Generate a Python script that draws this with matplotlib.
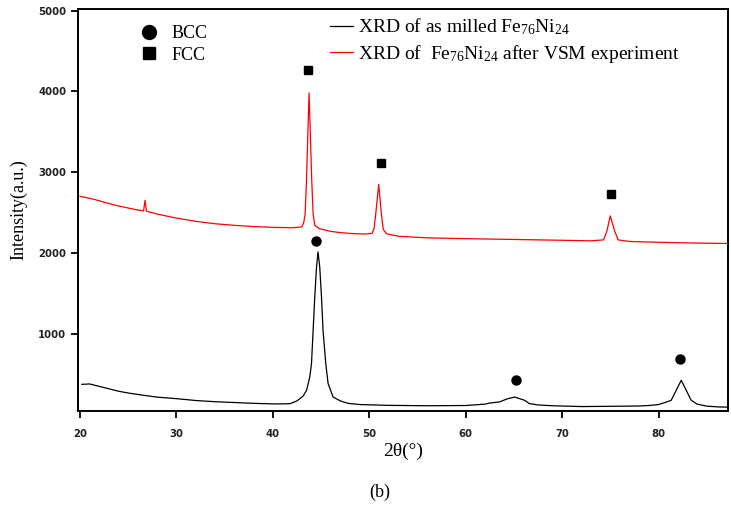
import matplotlib
matplotlib.use("Agg")
import matplotlib.pyplot as plt
from matplotlib.lines import Line2D

plt.rcParams['mathtext.fontset'] = 'custom'
plt.rcParams['mathtext.rm'] = 'Liberation Serif'
plt.rcParams['mathtext.it'] = 'Liberation Serif:italic'

# As-milled (black) XRD trace
milled_x = [20.2, 21, 22, 23, 24, 25, 26, 27, 28, 30, 32, 34, 36, 38, 40, 41, 41.8, 42.5, 43.14,
            43.5, 43.83, 44.01, 44.18, 44.35, 44.53, 44.69, 44.87, 45.05, 45.21, 45.49, 45.73,
            46.25, 47, 47.8, 49, 52, 56, 60, 62, 62.5, 63.5, 64.3, 65.08, 66.1, 66.6, 67.5, 69,
            72, 75, 78, 79, 80, 80.8, 81.31, 81.83, 82.35, 82.87, 83.38, 84, 85, 86.3, 87.2]
milled_y = [370, 375, 345, 315, 285, 263, 245, 228, 212, 193, 170, 155, 145, 135, 128, 128, 131, 165, 225,
            296, 460, 625, 1037, 1448, 1818, 2012, 1818, 1448, 1037, 630, 382,
            213, 165, 135, 120, 110, 105, 108, 125, 139, 152, 190, 213, 173, 132, 115, 105,
            95, 98, 102, 108, 120, 150, 173, 296, 420, 296, 173, 125, 100, 90, 88]

# After VSM (red) XRD trace
vsm_x = [20, 21, 22, 23, 24, 25, 26, 26.6, 26.75, 26.9, 28, 30, 32, 34, 36, 38, 40, 42, 43.0,
         43.2, 43.35, 43.49, 43.76, 44.04, 44.18, 44.35, 44.8, 46, 47, 48, 49.5, 50.3, 50.5,
         50.67, 50.98, 51.26, 51.45, 51.8, 53, 56, 60, 65, 70, 73, 74.3, 74.65, 74.99, 75.44,
         75.8, 77, 80, 84, 87.2]
vsm_y = [2700, 2675, 2645, 2610, 2580, 2555, 2530, 2520, 2650, 2515, 2480, 2430, 2390, 2360, 2340, 2325, 2315, 2310, 2320,
         2370, 2478, 2889, 3980, 2889, 2478, 2340, 2300, 2265, 2250, 2240, 2232, 2240, 2300,
         2478, 2848, 2478, 2290, 2235, 2205, 2185, 2175, 2165, 2155, 2148, 2160, 2272, 2457, 2272,
         2160, 2140, 2130, 2120, 2115]

# Phase markers
bcc_x = [44.5, 65.2, 82.2]
bcc_y = [2140, 420, 680]
fcc_x = [43.6, 51.2, 75.1]
fcc_y = [4270, 3110, 2725]

label_milled = r"XRD of as milled Fe$_\mathregular{76}$Ni$_\mathregular{24}$"
label_vsm = r"XRD of  Fe$_\mathregular{76}$Ni$_\mathregular{24}$ after VSM experiment"

fig = plt.figure(figsize=(7.31, 5.08), dpi=100)
ax = fig.add_axes([78/731, 1-411/508, 650/731, 402/508])

ax.plot(milled_x, milled_y, color='black', lw=0.9)
ax.plot(vsm_x, vsm_y, color='#ff0000', lw=0.9)
ax.plot(bcc_x, bcc_y, 'o', color='black', ms=6.5, ls='none')
ax.plot(fcc_x, fcc_y, 's', color='black', ms=5.8, ls='none')

ax.set_xlim(19.8, 87.2)
ax.set_ylim(40, 5020)
ax.set_xticks([20, 30, 40, 50, 60, 70, 80])
ax.set_yticks([1000, 2000, 3000, 4000, 5000])
ax.tick_params(direction='out', length=5, width=1.3, labelsize=7.3, top=False, right=False,
               labelcolor='#222222')
ax.tick_params(axis='x', pad=8)
for lab in ax.get_xticklabels() + ax.get_yticklabels():
    lab.set_fontweight('bold')
for s in ax.spines.values():
    s.set_linewidth(1.4)

ax.set_xlabel("2θ(°)", family='Liberation Serif', fontsize=14)
ax.set_ylabel("Intensity(a.u.)", family='Liberation Serif', fontsize=13)
ax.xaxis.set_label_coords(0.5, -0.08)
ax.yaxis.set_label_coords(-0.078, 0.5)

h1 = [Line2D([], [], marker='o', color='black', ls='none', ms=10),
      Line2D([], [], marker='s', color='black', ls='none', ms=9)]
leg1 = ax.legend(h1, ['BCC', 'FCC'], loc='upper left', frameon=False,
                 bbox_to_anchor=(0.07, 1.0), prop={'family': 'Liberation Serif', 'size': 13},
                 handlelength=1.0, handletextpad=0.75, labelspacing=0.25)
ax.add_artist(leg1)
h2 = [Line2D([], [], color='black', lw=0.9), Line2D([], [], color='#ff0000', lw=0.9)]
ax.legend(h2, [label_milled, label_vsm], loc='upper left', frameon=False,
          bbox_to_anchor=(0.361, 1.025), prop={'family': 'Liberation Serif', 'size': 14},
          handlelength=1.15, handletextpad=0.3, labelspacing=0.3)

fig.text(380/731, 1-492/508, "(b)", family='Liberation Serif', fontsize=13, ha='center', va='center')

fig.savefig("out.png", dpi=100)
